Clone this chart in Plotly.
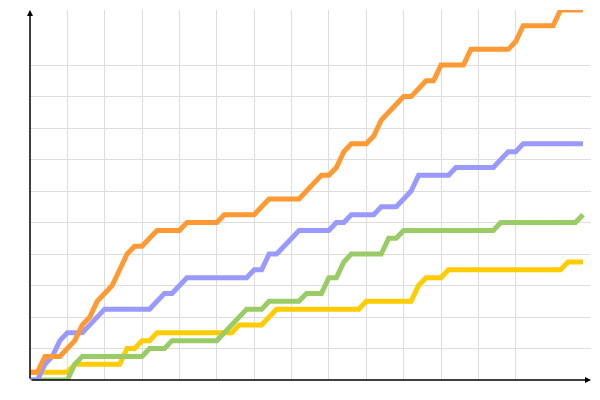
import plotly.graph_objects as go

days = list(range(75))

orange = [1, 1, 3, 3, 3, 4, 5, 7, 8, 10,
          11, 12, 14, 16, 17, 17, 18, 19, 19, 19,
          19, 20, 20, 20, 20, 20, 21, 21, 21, 21,
          21, 22, 23, 23, 23, 23, 23, 24, 25, 26,
          26, 27, 29, 30, 30, 30, 31, 33, 34, 35,
          36, 36, 37, 38, 38, 40, 40, 40, 40, 42,
          42, 42, 42, 42, 42, 43, 45, 45, 45, 45,
          45, 47, 47, 47, 47]
lavender = [0, 0, 2, 3, 5, 6, 6, 6, 7, 8,
            9, 9, 9, 9, 9, 9, 9, 10, 11, 11,
            12, 13, 13, 13, 13, 13, 13, 13, 13, 13,
            14, 14, 16, 16, 17, 18, 19, 19, 19, 19,
            19, 20, 20, 21, 21, 21, 21, 22, 22, 22,
            23, 24, 26, 26, 26, 26, 26, 27, 27, 27,
            27, 27, 27, 28, 29, 29, 30, 30, 30, 30,
            30, 30, 30, 30, 30]
green = [0, 0, 0, 0, 0, 0, 2, 3, 3, 3,
         3, 3, 3, 3, 3, 3, 4, 4, 4, 5,
         5, 5, 5, 5, 5, 5, 6, 7, 8, 9,
         9, 9, 10, 10, 10, 10, 10, 11, 11, 11,
         13, 13, 15, 16, 16, 16, 16, 16, 18, 18,
         19, 19, 19, 19, 19, 19, 19, 19, 19, 19,
         19, 19, 19, 20, 20, 20, 20, 20, 20, 20,
         20, 20, 20, 20, 21]
yellow = [1, 1, 1, 1, 1, 1, 2, 2, 2, 2,
          2, 2, 2, 4, 4, 5, 5, 6, 6, 6,
          6, 6, 6, 6, 6, 6, 6, 6, 7, 7,
          7, 7, 8, 9, 9, 9, 9, 9, 9, 9,
          9, 9, 9, 9, 9, 10, 10, 10, 10, 10,
          10, 10, 12, 13, 13, 13, 14, 14, 14, 14,
          14, 14, 14, 14, 14, 14, 14, 14, 14, 14,
          14, 14, 15, 15, 15]

x_grid = list(range(5, 70, 5))
y_grid = list(range(4, 44, 4))

fig = go.Figure()
# bottom to top
for vals, color in [(yellow, "#ffcc00"), (green, "#99cc66"),
                    (lavender, "#9999ff"), (orange, "#ff9933")]:
    fig.add_trace(go.Scatter(x=days, y=vals, mode="lines",
                             line=dict(color=color, width=5)))

# page body has an 8px margin, so size/margins are shifted by that
fig.update_layout(
    width=592, height=392,
    margin=dict(l=22, r=9, t=2, b=20),
    plot_bgcolor="white", paper_bgcolor="white",
    showlegend=False,
)
fig.update_xaxes(range=[0, 75.07], tickvals=x_grid, showticklabels=False,
                 showgrid=True, gridcolor="#dddddd", gridwidth=1,
                 zeroline=False, showline=False, ticks="")
fig.update_yaxes(range=[0, 47], tickvals=y_grid, showticklabels=False,
                 showgrid=True, gridcolor="#dddddd", gridwidth=1,
                 zeroline=False, showline=False, ticks="")

# axes drawn as arrows
fig.add_annotation(x=0, y=47, ax=0, ay=0, xref="x", yref="y",
                   axref="x", ayref="y", text="", showarrow=True,
                   arrowhead=2, arrowsize=0.8, arrowwidth=1.5, arrowcolor="black")
fig.add_annotation(x=75.07, y=0, ax=0, ay=0, xref="x", yref="y",
                   axref="x", ayref="y", text="", showarrow=True,
                   arrowhead=2, arrowsize=0.8, arrowwidth=1.5, arrowcolor="black")

fig.write_html("out.html")
